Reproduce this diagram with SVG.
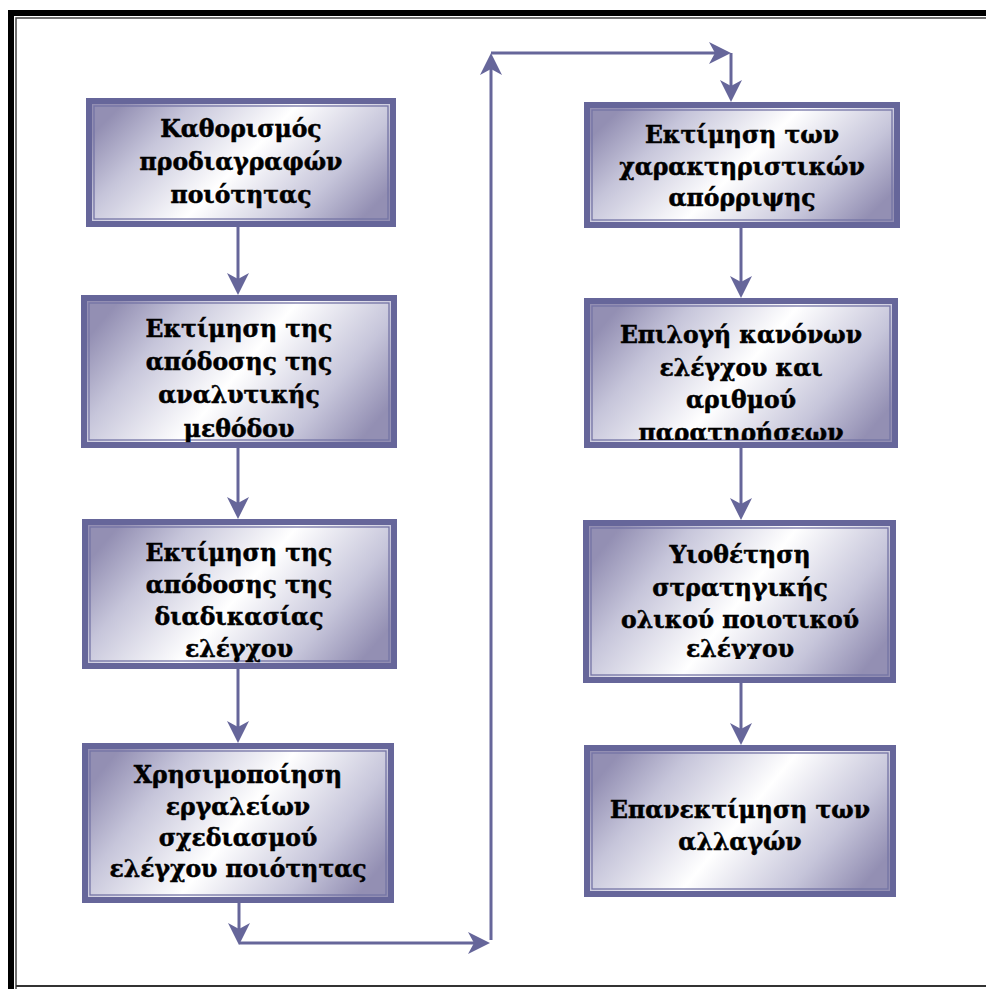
<svg xmlns="http://www.w3.org/2000/svg" width="986" height="989" viewBox="0 0 986 989">
<defs>
<linearGradient id="g" x1="0" y1="0.3" x2="1" y2="0.7">
<stop offset="0" stop-color="#938fb3"/>
<stop offset="0.2" stop-color="#c6c5da"/>
<stop offset="0.5" stop-color="#ffffff"/>
<stop offset="0.8" stop-color="#c6c5da"/>
<stop offset="1" stop-color="#938fb3"/>
</linearGradient>
<marker id="ah" viewBox="0 0 22 22" refX="14" refY="11" markerWidth="22" markerHeight="22" markerUnits="userSpaceOnUse" orient="auto">
<path d="M0,0 L22,11 L0,22 L6,11 Z" fill="#66669a"/>
</marker>
<clipPath id="c6"><rect x="592" y="306" width="298" height="134"/></clipPath>
<clipPath id="c7"><rect x="591" y="528" width="297" height="131"/></clipPath>
</defs>
<style>
.bx{fill:url(#g);stroke:#66669a;stroke-width:6}
.in{fill:none;stroke:#7473a5;stroke-width:1.3}
.t{font-family:"DejaVu Serif","Liberation Serif",serif;font-weight:bold;font-size:23.5px;fill:#000;stroke:#000;stroke-width:0.5;text-anchor:middle}
.cn{fill:none;stroke:#66669a;stroke-width:3}
</style>
<g id="frame">
<rect x="8" y="10" width="978" height="6" fill="#000"/>
<rect x="8" y="10" width="6" height="979" fill="#000"/>
<path d="M16,989 V18 H986" fill="none" stroke="#444" stroke-width="1.5"/>
<path d="M16,986 H986" fill="none" stroke="#333" stroke-width="2"/>
</g>
<g id="connectors">
<path class="cn" d="M238,227 V287" marker-end="url(#ah)"/>
<path class="cn" d="M238,448 V511" marker-end="url(#ah)"/>
<path class="cn" d="M238,669 V735" marker-end="url(#ah)"/>
<path class="cn" d="M239,903 V937" marker-end="url(#ah)"/>
<path class="cn" d="M239,943 H482" marker-end="url(#ah)"/>
<path class="cn" d="M491,940 V61" marker-end="url(#ah)"/>
<path class="cn" d="M491,53 H723" marker-end="url(#ah)"/>
<path class="cn" d="M731,53 V94" marker-end="url(#ah)"/>
<path class="cn" d="M741,228 V290" marker-end="url(#ah)"/>
<path class="cn" d="M741,448 V512" marker-end="url(#ah)"/>
<path class="cn" d="M741,683 V737" marker-end="url(#ah)"/>
</g>
<g id="n1">
<rect class="bx" x="89" y="101" width="304" height="123"/>
<rect class="in" x="94" y="106" width="294" height="113"/>
<text class="t" x="241"><tspan x="241" y="137">Καθορισμός</tspan><tspan x="241" y="170">προδιαγραφών</tspan><tspan x="241" y="203">ποιότητας</tspan></text>
</g>
<g id="n2">
<rect class="bx" x="84" y="298" width="310" height="147"/>
<rect class="in" x="89" y="303" width="300" height="137"/>
<text class="t"><tspan x="239" y="337">Εκτίμηση της</tspan><tspan x="239" y="370">απόδοσης της</tspan><tspan x="239" y="403">αναλυτικής</tspan><tspan x="239" y="437">μεθόδου</tspan></text>
</g>
<g id="n3">
<rect class="bx" x="85" y="522" width="309" height="144"/>
<rect class="in" x="90" y="527" width="299" height="134"/>
<text class="t"><tspan x="239" y="561">Εκτίμηση της</tspan><tspan x="239" y="593">απόδοσης της</tspan><tspan x="239" y="625">διαδικασίας</tspan><tspan x="239" y="657">ελέγχου</tspan></text>
</g>
<g id="n4">
<rect class="bx" x="85" y="746" width="306" height="154"/>
<rect class="in" x="90" y="751" width="296" height="144"/>
<text class="t"><tspan x="238" y="783">Χρησιμοποίηση</tspan><tspan x="238" y="815">εργαλείων</tspan><tspan x="238" y="846">σχεδιασμού</tspan><tspan x="238" y="877">ελέγχου ποιότητας</tspan></text>
</g>
<g id="n5">
<rect class="bx" x="587" y="105" width="310" height="120"/>
<rect class="in" x="592" y="110" width="300" height="110"/>
<text class="t"><tspan x="742" y="143">Εκτίμηση των</tspan><tspan x="742" y="175">χαρακτηριστικών</tspan><tspan x="742" y="206">απόρριψης</tspan></text>
</g>
<g id="n6">
<rect class="bx" x="587" y="301" width="308" height="144"/>
<rect class="in" x="592" y="306" width="298" height="134"/>
<text class="t" clip-path="url(#c6)"><tspan x="741" y="343">Επιλογή κανόνων</tspan><tspan x="741" y="376">ελέγχου και</tspan><tspan x="741" y="408">αριθμού</tspan><tspan x="741" y="441">παρατηρήσεων</tspan></text>
</g>
<g id="n7">
<rect class="bx" x="586" y="523" width="307" height="157"/>
<rect class="in" x="591" y="528" width="297" height="147"/>
<text class="t" clip-path="url(#c7)"><tspan x="740" y="563">Υιοθέτηση</tspan><tspan x="740" y="596">στρατηγικής</tspan><tspan x="740" y="628">ολικού ποιοτικού</tspan><tspan x="740" y="657">ελέγχου</tspan></text>
</g>
<g id="n8">
<rect class="bx" x="587" y="748" width="306" height="146"/>
<rect class="in" x="592" y="753" width="296" height="136"/>
<text class="t"><tspan x="740" y="818">Επανεκτίμηση των</tspan><tspan x="740" y="850">αλλαγών</tspan></text>
</g>
</svg>
